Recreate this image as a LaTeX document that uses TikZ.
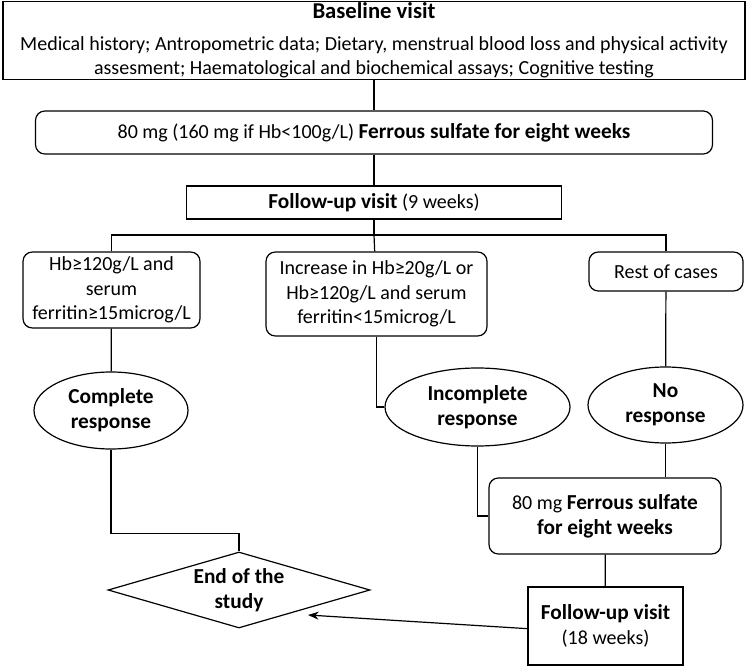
\documentclass[tikz,border=0pt]{standalone}
\usepackage{fontspec}
\setmainfont{Carlito}
\usetikzlibrary{shapes.geometric,arrows.meta,positioning}

\begin{document}
\begin{tikzpicture}[x=0.75pt, y=-0.75pt, line width=0.9pt,
    font=\fontsize{15}{18.5}\selectfont,
    sqbox/.style={draw, rectangle, inner sep=1pt, align=center},
    rbox/.style={draw, rectangle, rounded corners=7pt, inner sep=1pt, align=center},
    oval/.style={draw, ellipse, inner sep=0pt, align=center, font=\fontsize{16}{19}\selectfont\bfseries},
    endbox/.style={draw, diamond, aspect=3.4, inner sep=0pt, align=center, font=\fontsize{16}{19}\selectfont\bfseries}]
    \useasboundingbox (0,0) rectangle (750,666);
    % Nodes
    \node [sqbox, minimum width=742*0.75pt, minimum height=77*0.75pt] (base) at (374,40.5)
      {{\fontsize{17}{19}\selectfont\bfseries Baseline visit}\\[5pt]
       Medical history; Antropometric data; Dietary, menstrual blood loss and physical activity\\
       assesment; Haematological and biochemical assays; Cognitive testing};
    \node [rbox, minimum width=677*0.75pt, minimum height=43*0.75pt] (iron1) at (374,132.5)
      {80 mg (160 mg if Hb<100g/L) {\fontsize{16}{19}\selectfont\bfseries Ferrous sulfate for eight weeks}};
    \node [sqbox, minimum width=375*0.75pt, minimum height=33*0.75pt] (visit1) at (374,202.5)
      {{\fontsize{16}{19}\selectfont\bfseries Follow-up visit} (9 weeks)};
    \node [rbox, minimum width=177*0.75pt, minimum height=76*0.75pt] (caseA) at (111.5,290)
      {Hb≥120g/L and\\serum\\ferritin≥15microg/L};
    \node [rbox, minimum width=221*0.75pt, minimum height=84*0.75pt] (caseB) at (376.5,294)
      {Increase in Hb≥20g/L or\\Hb≥120g/L and serum\\ferritin<15microg/L};
    \node [rbox, minimum width=154*0.75pt, minimum height=39*0.75pt] (caseC) at (666,271.5)
      {Rest of cases};
    \node [oval, minimum width=154*0.75pt, minimum height=77*0.75pt] (full) at (111,410.5)
      {Complete\\response};
    \node [oval, minimum width=185*0.75pt, minimum height=78*0.75pt] (part) at (477.5,407)
      {Incomplete\\response};
    \node [oval, minimum width=155*0.75pt, minimum height=76*0.75pt] (none) at (665.5,405)
      {No\\response};
    \node [rbox, minimum width=232*0.75pt, minimum height=76*0.75pt] (iron2) at (605,516)
      {80 mg {\fontsize{16}{19}\selectfont\bfseries Ferrous sulfate}\\
       {\fontsize{16}{19}\selectfont\bfseries for eight weeks}};
    \node [endbox, minimum width=262*0.75pt, minimum height=76*0.75pt] (finish) at (239,590)
      {End of the\\study};
    \node [sqbox, minimum width=155*0.75pt, minimum height=78*0.75pt] (visit2) at (605.5,626)
      {{\fontsize{16}{19}\selectfont\bfseries Follow-up visit}\\(18 weeks)};
    \coordinate (split) at (374,235);
    % Connectors
    \draw (base) -- (iron1);
    \draw (iron1) -- (visit1);
    \draw (visit1) -- (split);
    \draw (caseA.north) |- (split) -| (caseC.north);
    \draw (split) -- (caseB);
    \draw (caseA) -- (full);
    \draw (caseB.south) |- (part.west);
    \draw (caseC) -- (none);
    \draw (part.south) |- (iron2.west);
    \draw (none.south) -- (none.south |- iron2.north);
    \draw (full.south) |- ([yshift=13.5pt]finish.north) -- (finish.north);
    \draw (iron2) -- (visit2);
    \draw [-{Stealth[length=8pt]}] ([yshift=-2pt]visit2.west) -- (308,615);
\end{tikzpicture}
\end{document}
